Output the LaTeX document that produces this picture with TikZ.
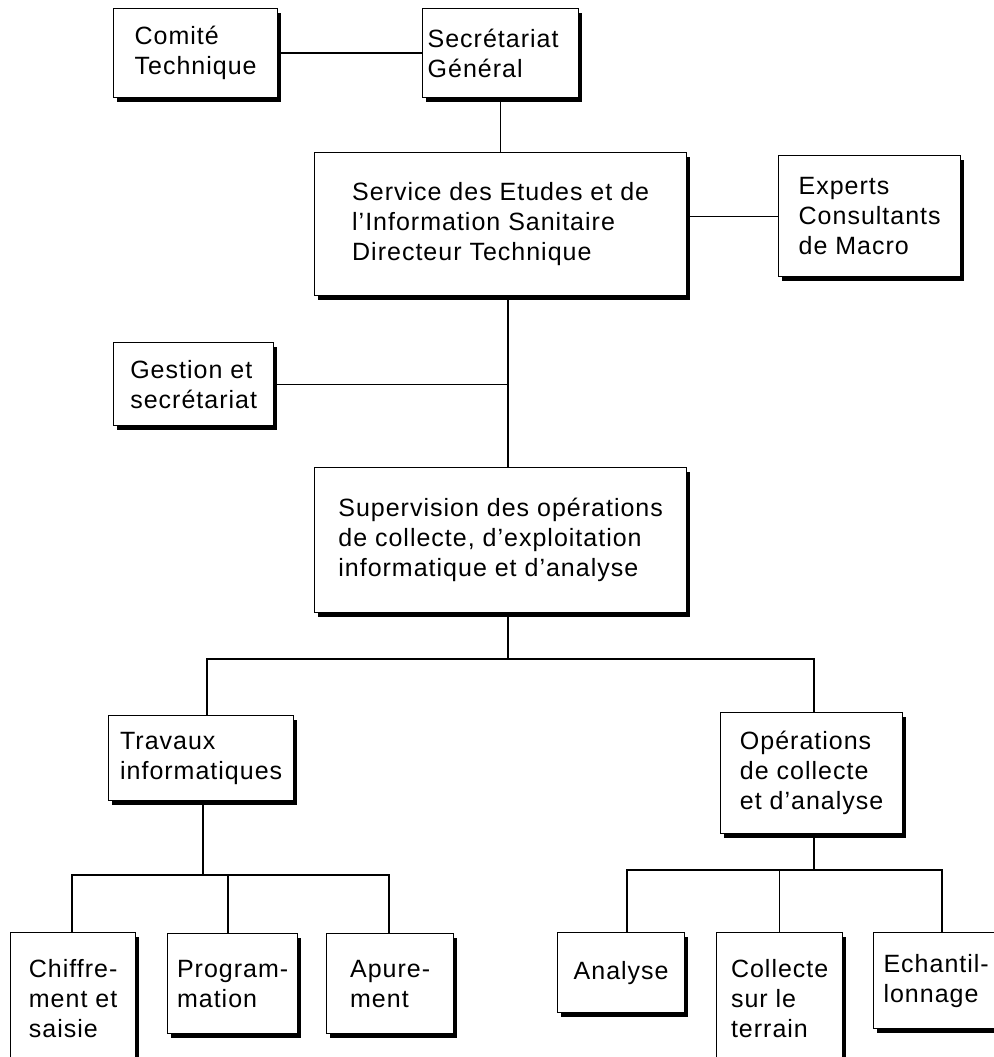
\documentclass[tikz,border=0pt]{standalone}
\usepackage{fontspec}
\setmainfont{Liberation Sans}[LetterSpace=4]
\usetikzlibrary{positioning,shadows}
\hyphenpenalty=10000
\exhyphenpenalty=10000

\begin{document}
\begin{tikzpicture}[x=1pt, y=-1pt,
  box/.style={draw, fill=white, line width=1.3pt, anchor=north west, align=left,
    font=\fontsize{25}{30}\selectfont, inner ysep=0pt,
    drop shadow={shadow xshift=3.5pt, shadow yshift=-4pt, fill=black, opacity=1}},
  link/.style={line width=1.3pt}]
\useasboundingbox (0,0) rectangle (993,1057);
% top level
\node[box, minimum width=164pt, minimum height=89pt] (com) at (113,8) {Comité\\Technique};
\node[box, inner xsep=5pt, text width=146pt, minimum height=89pt] (sec) at (422,8) {Secrétariat\\Général};
\node[box, minimum width=372pt, minimum height=143pt] (svc) at (314,152) {Service des Etudes et de\\l'Information Sanitaire\\Directeur Technique};
\node[box, minimum width=182pt, minimum height=121pt] (exp) at (778,155) {Experts\\Consultants\\de Macro};
\node[box, minimum width=160pt, minimum height=83pt] (ges) at (113,342) {Gestion et\\secrétariat};
\node[box, minimum width=372pt, minimum height=145pt] (sup) at (314,467) {Supervision des opérations\\de collecte, d'exploitation\\informatique et d'analyse};
% second level
\node[box, minimum width=185pt, minimum height=85pt] (trav) at (108,715) {Travaux\\informatiques};
\node[box, minimum width=182pt, minimum height=121pt] (ope) at (720,712) {Opérations\\de collecte\\et d'analyse};
% bottom row
\node[box, minimum width=125pt, minimum height=132pt] (chi) at (10,932) {Chiffre-\\ment et\\saisie};
\node[box, minimum width=130pt, minimum height=100pt] (prog) at (167,933) {Program-\\mation};
\node[box, minimum width=127pt, minimum height=100pt] (apu) at (326,933) {Apure-\\ment};
\node[box, minimum width=127pt, minimum height=80pt] (ana) at (557,932) {Analyse};
\node[box, minimum width=126pt, minimum height=132pt] (col) at (716,932) {Collecte\\sur le\\terrain};
\node[box, minimum width=125pt, minimum height=96pt] (ech) at (873,932) {Echantil-\\lonnage};
% junctions
\coordinate (axis) at (508,0);
\coordinate (busL) at (207,659);
\coordinate (busR) at (814,659);
\coordinate (l1) at (72,875);
\coordinate (l2) at (228,875);
\coordinate (l3) at (389,875);
\coordinate (subL) at (203,875);
\coordinate (r1) at (627,870);
\coordinate (r3) at (942,870);
\coordinate (subR) at (814,870);
% connectors
\draw[link] (com) -- (sec);
\draw[link] (sec) -- (svc);
\draw[link] (svc.east |- exp.west) -- (exp.west);
\draw[link] (svc.south -| axis) -- (sup.north -| axis);
\draw[link] (ges.east) -- (ges.east -| axis);
\draw[link] (sup.south -| axis) -- (busL -| axis);
\draw[link] (trav.north -| busL) -- (busL) -- (busR) -- (ope.north -| busR);
\draw[link] (trav.south -| subL) -- (subL);
\draw[link] (chi.north -| l1) -- (l1) -- (l3) -- (apu.north -| l3);
\draw[link] (prog.north -| l2) -- (l2);
\draw[link] (ope.south -| subR) -- (subR);
\draw[link] (ana.north -| r1) -- (r1) -- (r3) -- (ech.north -| r3);
\draw[link] (col) -- (col |- subR);
\end{tikzpicture}
\end{document}
